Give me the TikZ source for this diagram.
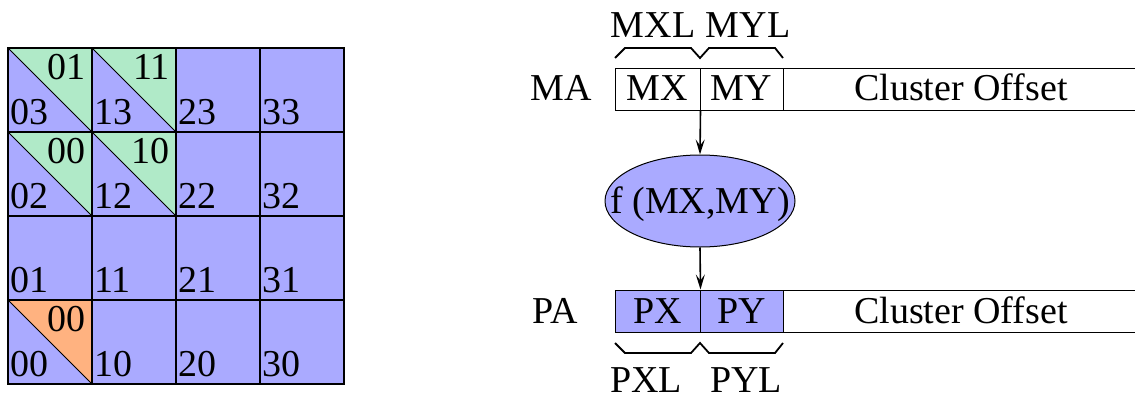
\documentclass[tikz,border=0pt]{standalone}
\usepackage{fontspec}
\setmainfont{Liberation Serif}
\usetikzlibrary{shapes.geometric,arrows.meta}
\definecolor{cblue}{RGB}{170,170,255}
\definecolor{cgreen}{RGB}{176,234,200}
\definecolor{corange}{RGB}{255,178,128}
\tikzset{
  txt/.style={font=\fontsize{38}{42}\selectfont, inner sep=0pt, anchor=base},
  field/.style={draw, line width=1pt, minimum height=42pt, inner sep=0pt},
  brc/.style={line width=1.8pt},
  arr/.style={line width=1.6pt, -{Stealth[length=15pt,width=9pt,inset=6pt]}},
}
\begin{document}
\begin{tikzpicture}[x=1pt,y=-1pt]
\useasboundingbox (0,0) rectangle (1135,399);
% grid
\fill[cblue] (8,48) rectangle (344,384);
% triangles
\foreach \i/\j/\c/\lab in {0/3/cgreen/01, 1/3/cgreen/11, 0/2/cgreen/00, 1/2/cgreen/10, 0/0/corange/00}{
  \pgfmathsetmacro{\xl}{8+84*\i}
  \pgfmathsetmacro{\yt}{384-84*(\j+1)}
  \fill[\c] (\xl,\yt) -- ++(84,0) -- ++(0,84) -- cycle;
  \draw[line width=0.8pt] (\xl,\yt) -- ++(84,84);
  \node[txt, anchor=base east] (t\i\j) at (\xl+78,\yt+31) {\lab};
}
\foreach \i in {0,...,3}{
  \foreach \j in {0,...,3}{
    \pgfmathsetmacro{\xl}{8+84*\i}
    \pgfmathsetmacro{\yt}{384-84*(\j+1)}
    \draw[line width=2pt] (\xl,\yt) rectangle ++(84,84);
    \node[txt, anchor=base west] (c\i\j) at (\xl+2,\yt+76) {\i\j};
  }
}
% MA row
\node[txt] (ma) at (561,100) {MA};
\node[field, minimum width=85pt] (mx) at (657.5,89) {};
\node[field, minimum width=83pt] (my) at (741.5,89) {};
\node[field, minimum width=370pt] (mo) at (968,89) {};
\node[txt] (mxt) at (mx |- 0,100) {MX};
\node[txt] (myt) at (my |- 0,100) {MY};
\node[txt] (mot) at (961,100) {Cluster Offset};
\node[txt] (mxl) at (653,37) {MXL};
\node[txt] (myl) at (748,37) {MYL};
\draw[brc] (615,58) -- (625,48) -- (691,48) -- (700,58) -- (709,48) -- (775,48) -- (783,58);
% ellipse
\node[ellipse, draw, line width=1pt, fill=cblue, minimum width=190pt, minimum height=92pt, inner sep=0pt] (f) at (700,201) {};
\node[txt] (ft) at (700,213) {f (MX,MY)};
% PA row
\node[txt] (pa) at (555,323) {PA};
\node[field, fill=cblue, minimum width=85pt] (px) at (657.5,311) {};
\node[field, fill=cblue, minimum width=83pt] (py) at (741.5,311) {};
\node[field, minimum width=370pt] (po) at (968,311) {};
\node[txt] (pxt) at (px |- 0,323) {PX};
\node[txt] (pyt) at (py |- 0,323) {PY};
\node[txt] (pot) at (961,323) {Cluster Offset};
\draw[brc] (615,343) -- (625,353) -- (691,353) -- (700,343) -- (709,353) -- (775,353) -- (783,343);
\node[txt] (pxl) at (646,392) {PXL};
\node[txt] (pyl) at (746,392) {PYL};
% arrows
\draw[arr] (mx.south east) -- (f.north);
\draw[arr] (f.south) -- (px.north east);
\end{tikzpicture}
\end{document}
